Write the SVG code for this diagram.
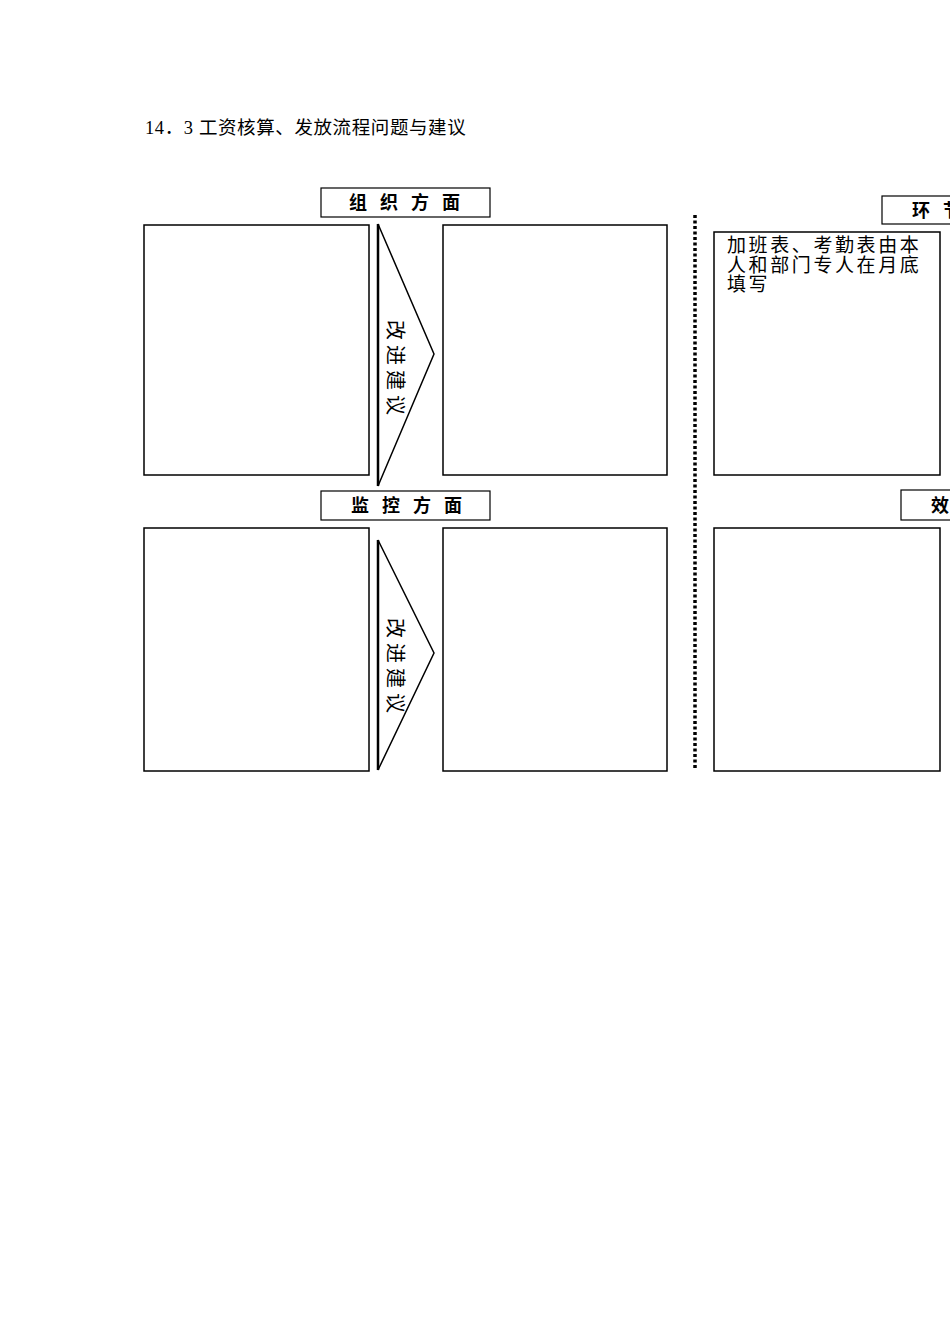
<svg xmlns="http://www.w3.org/2000/svg" width="950" height="1344" viewBox="0 0 950 1344">
<style>
.box{fill:#fff;stroke:#000;stroke-width:1.5}
.hdr{fill:#fff;stroke:#000;stroke-width:1.2}
.ht{font-family:"Noto Sans CJK SC","Noto Sans CJK JP",sans-serif;font-size:18px;font-weight:bold;fill:#000;letter-spacing:13px}
.t{font-family:"Liberation Serif","Noto Sans CJK SC",serif;fill:#000}
.arr{fill:#fff;stroke:#000;stroke-width:1.5}
.at{font-family:"Noto Sans CJK SC",sans-serif;font-size:20px;fill:#000;letter-spacing:5px}
</style>
<rect width="950" height="1344" fill="#fff"/>
<text class="t" x="145" y="134" font-size="18.5" letter-spacing="0.6">14．3 工资核算、发放流程问题与建议</text>

<g id="hdr-org"><rect class="hdr" x="321" y="188" width="169" height="29"/><text class="ht" x="349" y="209">组织方面</text></g>
<g id="hdr-mon"><rect class="hdr" x="321" y="491" width="169" height="29"/><text class="ht" x="351" y="512">监控方面</text></g>
<g id="hdr-link"><rect class="hdr" x="882" y="196" width="80" height="28"/><text class="ht" x="912" y="217">环节</text></g>
<g id="hdr-eff"><rect class="hdr" x="901" y="490" width="60" height="30"/><text class="ht" x="931" y="512">效</text></g>

<g id="box-tl"><rect class="box" x="144" y="225" width="225" height="250"/></g>
<g id="box-tm"><rect class="box" x="443" y="225" width="224" height="250"/></g>
<g id="box-tr"><rect class="box" x="714" y="232" width="226" height="243"/>
<text class="t" font-size="19" letter-spacing="2.6"><tspan x="727" y="252">加班表、考勤表由本</tspan><tspan x="727" y="272">人和部门专人在月底</tspan><tspan x="727" y="291">填写</tspan></text></g>
<g id="box-bl"><rect class="box" x="144" y="528" width="225" height="243"/></g>
<g id="box-bm"><rect class="box" x="443" y="528" width="224" height="243"/></g>
<g id="box-br"><rect class="box" x="714" y="528" width="226" height="243"/></g>

<g id="arrow-1"><polygon class="arr" points="378,224 434,354 378,486"/><line x1="378" y1="224" x2="378" y2="486" stroke="#000" stroke-width="2.5"/>
<text class="at" transform="translate(388,370) rotate(90)" text-anchor="middle">改进建议</text></g>
<g id="arrow-2"><polygon class="arr" points="378,540 434,653 378,770"/><line x1="378" y1="540" x2="378" y2="770" stroke="#000" stroke-width="2.5"/>
<text class="at" transform="translate(388,668) rotate(90)" text-anchor="middle">改进建议</text></g>

<g id="connectors"><line x1="695" y1="215" x2="695" y2="768" stroke="#000" stroke-width="3.5" stroke-dasharray="3 2.5"/></g>
</svg>
